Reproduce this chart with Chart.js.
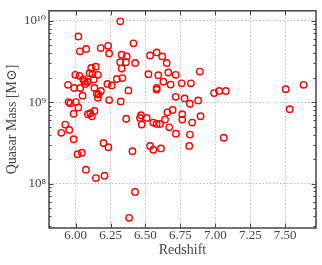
<!DOCTYPE html>
<html><head><meta charset="utf-8">
<script src="https://cdn.jsdelivr.net/npm/chart.js@4/dist/chart.umd.min.js"></script>
<style>html,body{margin:0;padding:0;background:#fff;}canvas{display:block}</style>
</head><body>
<canvas id="c" width="322" height="265"></canvas>
<script>
// Redshift of each quasar
const redshift = [
  6.32, 6.02, 6.076, 6.031, 6.18, 6.233, 6.24, 6.414, 6.33, 6.366,
  6.319, 6.361, 6.426, 6.33, 6.533, 6.58, 6.62, 6.652,
  5.998, 6.028, 5.946, 5.99, 6.033, 6.055, 6.064, 6.07, 6.085, 6.1,
  6.112, 6.145, 6.121, 6.16, 6.13, 6.135, 6.152, 6.164, 6.181, 6.16,
  6.05, 6.228, 6.259, 6.295, 6.335, 6.378, 6.24, 6.323,
  5.95, 5.962, 6.003, 6.02, 5.986, 6.088, 6.105, 6.117, 6.135,
  5.926, 5.898, 5.955, 5.986, 6.014, 6.045, 6.2, 6.235, 6.074, 6.145,
  6.207, 6.407, 6.425, 6.383, 6.362,
  6.468, 6.461, 6.473, 6.509, 6.556, 6.58, 6.604, 6.64, 6.656, 6.694,
  6.67, 6.718, 6.533, 6.556, 6.611, 6.763, 6.763, 6.834, 6.818, 6.894,
  6.813, 7.06,
  6.521, 6.592, 6.628, 6.663, 6.58, 6.58, 6.68, 6.716, 6.759, 6.825,
  6.889, 6.716, 6.78, 6.818, 6.877, 6.991, 7.027, 7.075, 7.503, 7.631, 7.532
];
// Quasar black-hole mass, in units of 10^9 solar masses
const massBillion = [
  9.8, 6.4, 4.5, 4.2, 4.6, 4.9, 3.96, 5.26, 3.82, 3.64,
  3.09, 3.09, 3.03, 2.58, 3.74, 4.07, 3.64, 3.02,
  2.16, 2.1, 1.63, 1.49, 1.49, 1.9, 1.8, 1.67, 1.77, 2.26,
  2.62, 2.72, 2.2, 2.16, 1.9, 1.49, 1.27, 1.24, 1.37, 1.13,
  1.2, 1.67, 1.6, 1.92, 1.97, 1.39, 1.06, 1.02,
  1.0, 0.97, 1.0, 0.86, 0.72, 0.71, 0.73, 0.67, 0.78,
  0.53, 0.42, 0.455, 0.35, 0.229, 0.239, 0.315, 0.28, 0.148, 0.117,
  0.125, 0.25, 0.079, 0.038, 0.625,
  0.69, 0.64, 0.53, 0.64, 0.56, 0.54, 0.54, 0.61, 0.75, 0.80,
  0.49, 0.41, 0.29, 0.26, 0.27, 0.71, 0.61, 0.56, 0.40, 0.67,
  0.29, 0.365,
  2.2, 2.14, 1.78, 2.31, 1.49, 1.42, 1.64, 2.16, 1.7, 1.7,
  2.37, 1.16, 1.11, 0.955, 1.05, 1.29, 1.37, 1.37, 1.44, 1.63, 0.82
];
const xTicks = [6.00, 6.25, 6.50, 6.75, 7.00, 7.25, 7.50];
const yTicks = [1e8, 1e9, 1e10];
const yTickLabels = ['10\u2078', '10\u2079', '10\u00b9\u2070'];
const xTitle = 'Redshift';
const yTitle = 'Quasar Mass [M\u2299]';

const points = redshift.map((z, i) => ({x: z, y: massBillion[i] * 1e9}));

const FONT = "'Liberation Serif', 'DejaVu Serif', serif";
const TXT = '#444';

const framePlugin = {
  id: 'frame',
  afterDraw(chart) {
    const {ctx, chartArea: a, scales: {x, y}} = chart;
    ctx.save();
    ctx.strokeStyle = '#444';
    ctx.lineWidth = 1;
    ctx.beginPath();
    const major = 4.5, minor = 2.5;
    xTicks.forEach(v => {
      const p = Math.round(x.getPixelForValue(v)) + 0.5;
      ctx.moveTo(p, a.bottom); ctx.lineTo(p, a.bottom - major);
      ctx.moveTo(p, a.top); ctx.lineTo(p, a.top + major);
    });
    const lo = Math.floor(Math.log10(y.min)), hi = Math.ceil(Math.log10(y.max));
    for (let d = lo; d <= hi; d++) {
      for (let m = 1; m <= 9; m++) {
        const v = m * Math.pow(10, d);
        if (v < y.min || v > y.max) continue;
        const len = m === 1 ? major : minor;
        const p = Math.round(y.getPixelForValue(v)) + 0.5;
        ctx.moveTo(a.left, p); ctx.lineTo(a.left + len, p);
        ctx.moveTo(a.right, p); ctx.lineTo(a.right - len, p);
      }
    }
    ctx.stroke();
    ctx.lineWidth = 1.5;
    ctx.strokeRect(a.left, a.top, a.right - a.left, a.bottom - a.top);
    ctx.restore();
  }
};

new Chart(document.getElementById('c'), {
  type: 'scatter',
  data: {
    datasets: [{
      data: points,
      pointRadius: 3.2,
      pointHoverRadius: 3.2,
      borderColor: '#ff0000',
      backgroundColor: 'rgba(0,0,0,0)',
      borderWidth: 1.4,
      pointStyle: 'circle'
    }]
  },
  options: {
    responsive: false,
    animation: false,
    devicePixelRatio: 1,
    layout: {padding: {top: 5, right: 6, left: 0, bottom: 0}},
    plugins: {legend: {display: false}, tooltip: {enabled: false}},
    scales: {
      x: {
        type: 'linear',
        min: 5.81, max: 7.72,
        afterBuildTicks: s => { s.ticks = xTicks.map(v => ({value: v})); },
        afterFit: s => { s.height = 37; },
        ticks: {
          callback: v => Number(v).toFixed(2),
          color: TXT, font: {family: FONT, size: 13}, padding: 0, maxRotation: 0, autoSkip: false
        },
        grid: {color: '#bdbdbd', lineWidth: 1, drawTicks: false, borderDash: [1.5, 2]},
        border: {display: false, dash: [1.5, 2]},
        title: {display: true, text: xTitle, color: TXT, font: {family: FONT, size: 14}, padding: {top: 0, bottom: 6}}
      },
      y: {
        type: 'logarithmic',
        min: 2.85e7, max: 1.32e10,
        afterBuildTicks: s => { s.ticks = yTicks.map(v => ({value: v})); },
        afterFit: s => { s.width = 49; },
        ticks: {
          callback: v => yTickLabels[yTicks.indexOf(v)] ?? '',
          color: TXT, font: {family: FONT, size: 13}, padding: 3, autoSkip: false
        },
        grid: {color: '#bdbdbd', lineWidth: 1, drawTicks: false, borderDash: [1.5, 2]},
        border: {display: false, dash: [1.5, 2]},
        title: {display: true, text: yTitle, color: TXT, font: {family: FONT, size: 14}, padding: {top: 4, bottom: 0}}
      }
    }
  },
  plugins: [framePlugin]
});
</script>
</body></html>
